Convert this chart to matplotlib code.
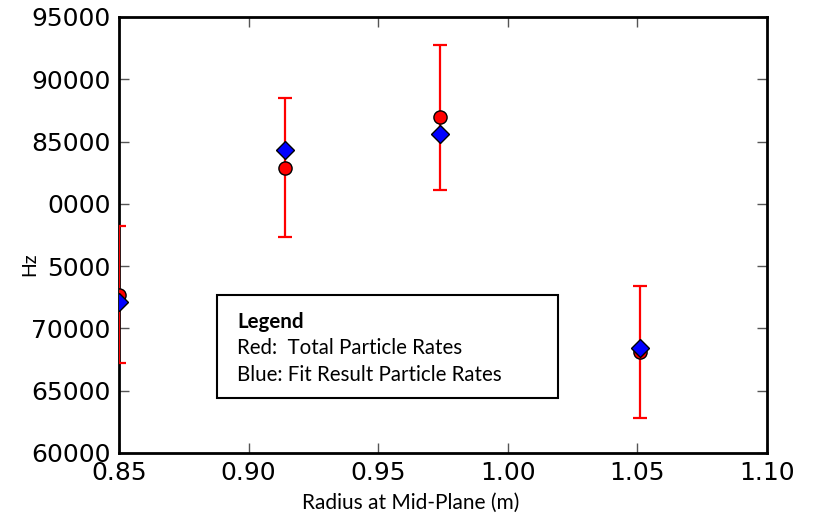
import matplotlib
matplotlib.use("Agg")
import matplotlib.pyplot as plt
from matplotlib.patches import Rectangle

# Data
radius = [0.850, 0.914, 0.974, 1.051]
total_rate = [72700, 82900, 86950, 68100]
total_err = [5500, 5600, 5800, 5300]
fit_rate = [72100, 84300, 85600, 68450]

yticks = [60000, 65000, 70000, 75000, 80000, 85000, 90000, 95000]
ytick_labels = ["60000", "65000", "70000", "5000", "0000", "85000", "90000", "95000"]
xticks = [0.85, 0.90, 0.95, 1.00, 1.05, 1.10]
xtick_labels = ["0.85", "0.90", "0.95", "1.00", "1.05", "1.10"]

legend_lines = ["Red:  Total Particle Rates", "Blue: Fit Result Particle Rates"]

fig = plt.figure(figsize=(8.19, 5.18), dpi=100)
ax = fig.add_axes([119/819, 1-453/518, (767-119)/819, (453-17)/518])

ax.errorbar(radius, total_rate, yerr=total_err, fmt='none', ecolor='red',
            elinewidth=1.6, capsize=5, capthick=1.6, zorder=2.6)
ax.plot(radius, total_rate, 'o', color='red', mec='black', mew=1.0, ms=9.5,
        clip_on=True, zorder=3)
ax.plot(radius, fit_rate, 'D', color='blue', mec='black', mew=1.0, ms=9.5,
        clip_on=True, zorder=4)

ax.set_xlim(0.85, 1.10)
ax.set_ylim(60000, 95000)
ax.set_xticks(xticks)
ax.set_xticklabels(xtick_labels)
ax.set_yticks(yticks)
ax.set_yticklabels(ytick_labels)
ax.tick_params(direction='in', top=True, right=True, length=7, width=1,
               labelsize=18, pad=6, color='#555555')
for lab in ax.get_xticklabels() + ax.get_yticklabels():
    lab.set_family('DejaVu Sans')
for s in ax.spines.values():
    s.set_linewidth(2)
    s.set_zorder(2.5)

ax.set_xlabel("Radius at Mid-Plane (m)", family='Lato', fontsize=15)
ax.xaxis.set_label_coords((411-119)/648, -(503-453)/436)
ax.xaxis.label.set_va('center')
fig.text(30/819, 1-264/518, "Hz", rotation=90, family='Lato', fontsize=14,
         ha='center', va='center')

# legend text box
x0 = (217-119)/648
x1 = (558-119)/648
y0 = 1-(398-17)/436
y1 = 1-(295-17)/436
ax.add_patch(Rectangle((x0, y0), x1-x0, y1-y0, transform=ax.transAxes,
                       fill=True, facecolor='white', edgecolor='black', lw=1.5, zorder=5))
tx = (237-119)/648
ax.text(tx, 1-(322-17)/436, "Legend", transform=ax.transAxes, family='Lato',
        fontweight='bold', fontsize=14.8, va='center', zorder=6)
for i, t in enumerate(legend_lines):
    ax.text(tx, 1-((348 + 27*i)-17)/436, t, transform=ax.transAxes, family='Lato',
            fontsize=14.8, va='center', zorder=6)

fig.savefig("out.png", dpi=100)
